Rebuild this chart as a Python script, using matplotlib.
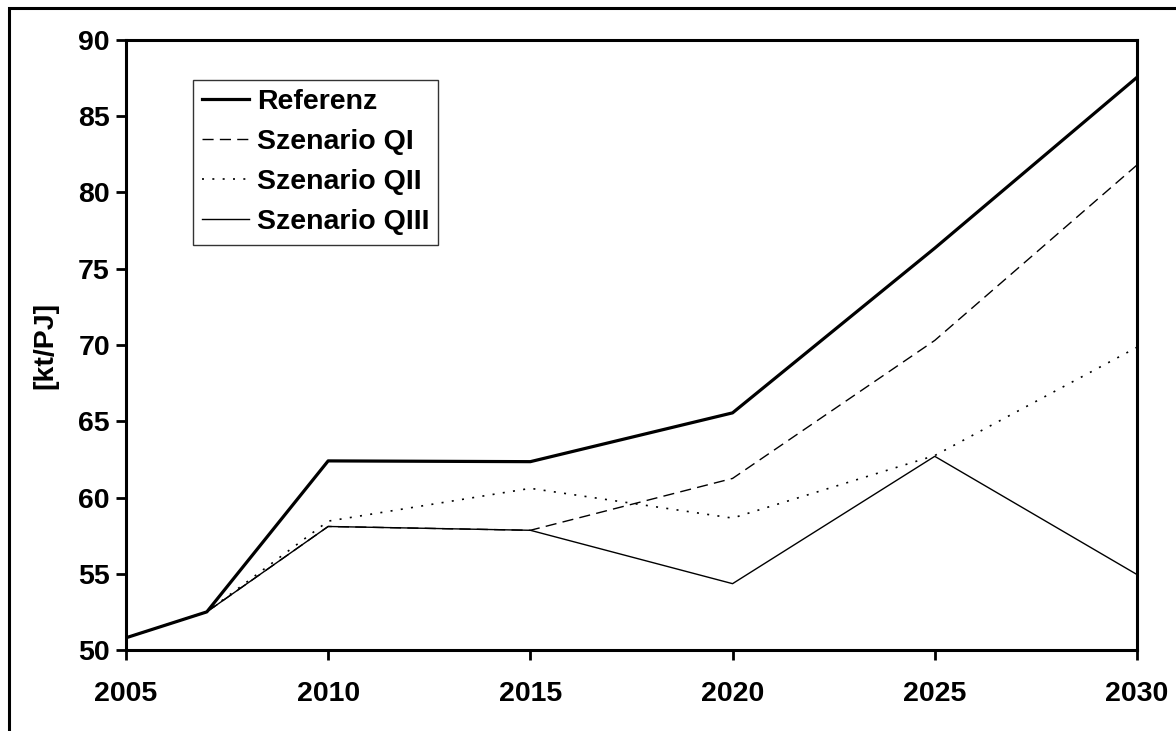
import matplotlib
matplotlib.use("Agg")
import matplotlib.pyplot as plt
from matplotlib.patches import Rectangle

plt.rcParams['font.family'] = ['Liberation Sans', 'DejaVu Sans']
plt.rcParams['font.weight'] = 'bold'

# data
years = [2005, 2007, 2010, 2015, 2020, 2025, 2030]
referenz = [50.8, 52.5, 62.4, 62.35, 65.55, 76.35, 87.55]
szen_q1 = [50.8, 52.5, 58.1, 57.85, 61.25, 70.3, 81.8]
szen_q2 = [50.8, 52.5, 58.45, 60.6, 58.65, 62.75, 69.85]
szen_q3 = [50.8, 52.5, 58.1, 57.85, 54.35, 62.7, 54.95]

xticks = [2005, 2010, 2015, 2020, 2025, 2030]
yticks = [50, 55, 60, 65, 70, 75, 80, 85, 90]

fig = plt.figure(figsize=(11.76, 7.31), dpi=100)
ax = fig.add_axes([0.1071, 0.1108, 0.8597, 0.8345])

ax.plot(years, referenz, color='black', lw=2.3, label='Referenz')
ax.plot(years, szen_q1, color='black', lw=1.0, dashes=(8, 4.5), label='Szenario QI')
ax.plot(years, szen_q2, color='black', lw=1.2, dashes=(1.2, 5), label='Szenario QII')
ax.plot(years, szen_q3, color='black', lw=1.0, label='Szenario QIII')

ax.set_xlim(2005, 2030)
ax.set_ylim(50, 90)
ax.set_xticks(xticks)
ax.set_yticks(yticks)
ax.tick_params(direction='out', length=7.5, width=2, labelsize=20.5, pad=4)
ax.tick_params(axis='x', pad=15)
for s in ax.spines.values():
    s.set_linewidth(2.2)
ax.set_ylabel('[kt/PJ]', fontsize=20.5, fontweight='bold', labelpad=14)

leg = ax.legend(loc='upper left', bbox_to_anchor=(0.066, 0.935), fontsize=20.5,
                frameon=True, fancybox=False, handlelength=1.65, handletextpad=0.28,
                labelspacing=0.5, borderpad=0.32, borderaxespad=0)
leg.get_frame().set_edgecolor('black')
leg.get_frame().set_linewidth(1.0)

# frame round the whole figure
fig.patches.append(Rectangle((9 / 1176, -0.05), 1.2, 1 - 8.5 / 731 + 0.05,
                             transform=fig.transFigure, fill=False,
                             edgecolor='black', lw=2.2, clip_on=False))

fig.savefig('out.png', dpi=100)
